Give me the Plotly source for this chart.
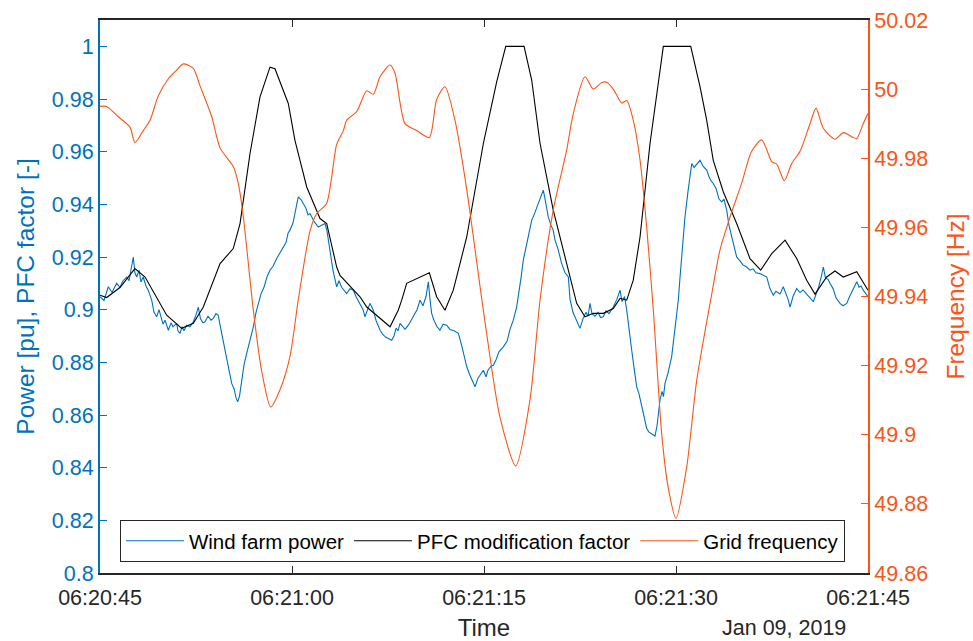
import pandas as pd
import plotly.graph_objects as go

# ---- data (seconds after 06:20:45 on 2019-01-09) ----
freq_t = [0.0, 0.52, 1.43, 2.34, 2.73, 3.38, 3.91, 4.55, 5.34, 5.99, 6.51, 7.29, 7.81,
          8.73, 9.38, 10.41, 10.80, 11.20, 11.98, 12.66, 13.34, 14.06, 14.84, 15.49,
          16.41, 16.93, 17.71, 18.49, 19.01, 19.27, 20.05, 20.84, 21.35, 21.88, 22.66,
          23.05, 23.83, 24.74, 25.73, 26.30, 26.95, 27.73, 28.65, 29.95, 31.25, 32.48,
          33.59, 34.38, 35.41, 36.46, 36.98, 37.89, 38.54, 39.20, 39.59, 40.10, 40.76,
          41.15, 41.66, 42.19, 42.71, 43.23, 43.88, 44.38, 45.00, 45.84, 46.62, 47.71,
          48.44, 49.22, 50.13, 50.91, 51.70, 52.48, 52.87, 53.46, 54.04, 54.69, 55.47,
          55.94, 56.51, 57.42, 58.07, 58.85, 59.12, 59.63, 60.0]
freq_hz = [49.995, 49.995, 49.992, 49.989, 49.9845, 49.988, 49.991, 49.998, 50.003,
           50.0055, 50.0073, 50.006, 50.001, 49.992, 49.983, 49.9776, 49.9728, 49.963,
           49.936, 49.9178, 49.908, 49.913, 49.9226, 49.939, 49.959, 49.964, 49.967,
           49.984, 49.988, 49.991, 49.9935, 49.9995, 49.9985, 50.0036, 50.007, 50.0046,
           49.990, 49.988, 49.986, 49.997, 50.0007, 49.991, 49.971, 49.936, 49.905,
           49.891, 49.910, 49.939, 49.965, 49.9824, 49.993, 50.0036, 50.000, 50.0019,
           50.002, 50.000, 49.996, 49.9967, 49.991, 49.9795, 49.960, 49.936, 49.9004,
           49.885, 49.8758, 49.8908, 49.9158, 49.939, 49.9535, 49.963, 49.9728, 49.982,
           49.9853, 49.979, 49.9783, 49.9735, 49.9785, 49.982, 49.990, 49.9945, 49.9887,
           49.9855, 49.9874, 49.986, 49.9857, 49.990, 49.993]

pfc_t = [0.0, 0.52, 1.56, 2.73, 3.52, 4.16, 4.69, 5.21, 6.38, 7.29, 8.07, 9.38, 10.41,
         10.94, 11.72, 12.5, 13.28, 13.67, 14.71, 15.23, 16.15, 17.19, 17.71, 18.49,
         18.75, 19.79, 20.31, 20.84, 22.66, 23.30, 23.57, 23.96, 25.0, 25.73, 26.30,
         26.95, 27.60, 28.65, 29.95, 30.99, 31.70, 33.13, 33.73, 34.38, 35.41, 36.46,
         37.24, 37.89, 38.54, 39.32, 40.10, 40.63, 41.15, 41.66, 42.19, 42.97, 44.01,
         46.15, 46.88, 47.40, 47.91, 48.70, 49.74, 50.78, 51.62, 52.48, 53.52, 54.43,
         55.21, 55.86, 56.77, 57.42, 58.07, 59.12, 60.0]
pfc_val = [0.9055, 0.9046, 0.9084, 0.9156, 0.9124, 0.9068, 0.9024, 0.8979, 0.8929,
           0.8948, 0.901, 0.9175, 0.9232, 0.9327, 0.9593, 0.9808, 0.9921, 0.9915,
           0.9783, 0.9643, 0.9466, 0.9346, 0.9327, 0.9162, 0.913, 0.9074, 0.9049,
           0.901, 0.8935, 0.8998, 0.9036, 0.910, 0.9124, 0.914, 0.9049, 0.8998,
           0.9074, 0.9276, 0.9631, 0.9865, 1.0, 1.0, 0.9871, 0.9631, 0.9378, 0.9175,
           0.9024, 0.8973, 0.8986, 0.8986, 0.9004, 0.9043, 0.9036, 0.9112, 0.9276,
           0.9631, 1.0, 1.0, 0.9846, 0.9719, 0.9567, 0.9447, 0.9327, 0.9194, 0.915,
           0.9213, 0.9264, 0.9194, 0.9112, 0.9059, 0.9124, 0.9147, 0.9124, 0.9144, 0.9074]

power_t = [0.00, 0.31, 0.65, 0.94, 1.30, 1.56, 1.80, 2.09, 2.27, 2.42, 2.60, 2.73, 2.87,
           3.05, 3.20, 3.38, 3.59, 3.77, 4.04, 4.22, 4.43, 4.61, 4.77, 4.92, 5.08, 5.34,
           5.55, 5.70, 5.99, 6.09, 6.25, 6.41, 6.56, 6.77, 7.03, 7.29, 7.50, 7.68, 7.85,
           8.05, 8.20, 8.44, 8.67, 8.85, 9.06, 9.24, 9.38, 9.61, 9.90, 10.08, 10.29,
           10.47, 10.63, 10.76, 10.90, 11.07, 11.25, 11.46, 11.72, 11.98, 12.19, 12.37,
           12.58, 12.81, 13.05, 13.28, 13.52, 13.80, 14.06, 14.32, 14.53, 14.69, 14.84,
           15.08, 15.31, 15.49, 15.70, 15.88, 16.09, 16.25, 16.41, 16.72, 17.05, 17.27,
           17.58, 17.73, 17.97, 18.20, 18.49, 18.67, 18.88, 19.06, 19.27, 19.53, 19.79,
           20.00, 20.31, 20.55, 20.70, 20.94, 21.09, 21.35, 21.56, 21.88, 22.11, 22.34,
           22.58, 22.79, 22.97, 23.13, 23.28, 23.44, 23.67, 23.83, 24.09, 24.30, 24.53,
           24.77, 25.00, 25.23, 25.47, 25.65, 25.78, 25.91, 26.09, 26.33, 26.56, 26.80,
           27.09, 27.34, 27.66, 28.00, 28.28, 28.65, 28.91, 29.14, 29.30, 29.53, 29.77,
           29.95, 30.16, 30.31, 30.55, 30.73, 30.94, 31.17, 31.51, 31.80, 32.03, 32.29,
           32.55, 32.73, 32.89, 33.07, 33.28, 33.52, 33.73, 33.91, 34.06, 34.24, 34.38,
           34.53, 34.63, 34.77, 34.88, 35.02, 35.23, 35.39, 35.55, 35.78, 36.07, 36.33,
           36.59, 36.72, 36.95, 37.24, 37.50, 37.73, 37.97, 38.13, 38.28, 38.44, 38.67,
           38.91, 39.10, 39.32, 39.53, 39.77, 40.10, 40.39, 40.63, 40.78, 40.98, 41.15,
           41.33, 41.54, 41.72, 41.93, 42.11, 42.32, 42.50, 42.71, 42.89, 43.05, 43.20,
           43.36, 43.52, 43.67, 43.75, 43.91, 44.02, 44.14, 44.38, 44.66, 44.84, 45.00,
           45.18, 45.31, 45.47, 45.70, 45.94, 46.23, 46.41, 46.64, 46.88, 47.11, 47.40,
           47.58, 47.73, 47.91, 48.13, 48.36, 48.57, 48.75, 48.96, 49.14, 49.35, 49.53,
           49.74, 50.00, 50.23, 50.52, 50.78, 51.02, 51.25, 51.56, 51.80, 52.09, 52.34,
           52.60, 52.81, 53.13, 53.38, 53.59, 53.75, 53.91, 54.14, 54.43, 54.69, 54.92,
           55.21, 55.47, 55.73, 55.94, 56.17, 56.37, 56.51, 56.68, 56.88, 57.03, 57.27,
           57.50, 57.81, 58.05, 58.34, 58.52, 58.75, 58.95, 59.12, 59.30, 59.45, 59.63,
           59.84, 60.00]
power_pu = [0.9049, 0.9035, 0.9087, 0.9065, 0.9100, 0.9085, 0.9110, 0.9124, 0.9110,
            0.9150, 0.9200, 0.9140, 0.9124, 0.9150, 0.9105, 0.9124, 0.9090, 0.9074,
            0.9036, 0.8990, 0.8973, 0.9000, 0.8965, 0.8945, 0.8960, 0.8922, 0.8950,
            0.8935, 0.8948, 0.8920, 0.8910, 0.8935, 0.8920, 0.8941, 0.8935, 0.8954,
            0.8980, 0.9010, 0.8965, 0.8950, 0.8954, 0.8975, 0.8960, 0.8967, 0.8985,
            0.8979, 0.8941, 0.8880, 0.8808, 0.8770, 0.8720, 0.8700, 0.8665, 0.8650,
            0.8672, 0.8732, 0.8790, 0.8834, 0.8880, 0.8935, 0.8990, 0.9024, 0.9060,
            0.9085, 0.9125, 0.9150, 0.9165, 0.9194, 0.9215, 0.9238, 0.9255, 0.9290,
            0.9302, 0.9330, 0.9385, 0.9428, 0.9418, 0.9403, 0.9385, 0.9360, 0.9365,
            0.9335, 0.9314, 0.9320, 0.9327, 0.9300, 0.9226, 0.9150, 0.9087, 0.9110,
            0.9085, 0.9075, 0.9061, 0.9080, 0.9074, 0.9050, 0.9024, 0.9000, 0.8973,
            0.9000, 0.9024, 0.8998, 0.8960, 0.8922, 0.8905, 0.8895, 0.8890, 0.8884,
            0.8900, 0.8930, 0.8920, 0.8948, 0.8935, 0.8925, 0.8941, 0.8960, 0.8975,
            0.9000, 0.9036, 0.9015, 0.9050, 0.9106, 0.9040, 0.8986, 0.8960, 0.8935,
            0.8922, 0.8945, 0.8941, 0.8925, 0.8920, 0.8910, 0.8860, 0.8783, 0.8750,
            0.8725, 0.8707, 0.8740, 0.8760, 0.8770, 0.8745, 0.8770, 0.8785, 0.8789,
            0.8810, 0.8840, 0.8859, 0.8880, 0.8925, 0.8960, 0.9010, 0.9060, 0.9120,
            0.9188, 0.9240, 0.9290, 0.9340, 0.9360, 0.9380, 0.9403, 0.9420, 0.9440,
            0.9454, 0.9420, 0.9390, 0.9352, 0.9320, 0.9305, 0.9264, 0.9230, 0.9175,
            0.9140, 0.9124, 0.9040, 0.8990, 0.8960, 0.8929, 0.8965, 0.8990, 0.8975,
            0.9024, 0.8985, 0.8975, 0.8990, 0.8970, 0.8973, 0.8995, 0.8985, 0.9010,
            0.9040, 0.9074, 0.9030, 0.9050, 0.8998, 0.8920, 0.8846, 0.8780, 0.8707,
            0.8680, 0.8631, 0.8595, 0.8549, 0.8535, 0.8530, 0.8525, 0.8520, 0.8560,
            0.8620, 0.8657, 0.8690, 0.8670, 0.8720, 0.8760, 0.8821, 0.8890, 0.8960,
            0.9036, 0.9120, 0.9230, 0.9352, 0.9450, 0.9555, 0.9540, 0.9555, 0.9567,
            0.9545, 0.9530, 0.9505, 0.9490, 0.9479, 0.9460, 0.9420, 0.9409, 0.9420,
            0.9378, 0.9320, 0.9276, 0.9240, 0.9200, 0.9185, 0.9170, 0.9162, 0.9150,
            0.9155, 0.9140, 0.9137, 0.9130, 0.9124, 0.9080, 0.9055, 0.9070, 0.9060,
            0.9087, 0.9060, 0.9040, 0.9010, 0.9050, 0.9080, 0.9065, 0.9075, 0.9061,
            0.9045, 0.9030, 0.9060, 0.9090, 0.9130, 0.9162, 0.9120, 0.9115, 0.9100,
            0.9080, 0.9045, 0.9024, 0.9015, 0.9024, 0.9045, 0.9070, 0.9090, 0.9106,
            0.9085, 0.9090, 0.9074, 0.9060, 0.9049]

start_time = "2019-01-09 06:20:45"
end_time = "2019-01-09 06:21:45"
x_tick_vals = ["2019-01-09 06:20:45", "2019-01-09 06:21:00", "2019-01-09 06:21:15",
               "2019-01-09 06:21:30", "2019-01-09 06:21:45"]
x_tick_text = ["06:20:45", "06:21:00", "06:21:15", "06:21:30", "06:21:45"]
left_ticks = [0.8, 0.82, 0.84, 0.86, 0.88, 0.9, 0.92, 0.94, 0.96, 0.98, 1.0]
left_tick_text = ["0.8", "0.82", "0.84", "0.86", "0.88", "0.9", "0.92", "0.94",
                  "0.96", "0.98", "1"]
right_ticks = [49.86, 49.88, 49.9, 49.92, 49.94, 49.96, 49.98, 50.0, 50.02]
right_tick_text = ["49.86", "49.88", "49.9", "49.92", "49.94", "49.96", "49.98",
                   "50", "50.02"]

BLUE = "#0072BD"
ORANGE = "#FA5518"
DARK = "#262626"
FONT = "Liberation Sans, Arial, sans-serif"

base = pd.Timestamp(start_time)


def to_time(seconds):
    return base + pd.to_timedelta(seconds, unit="s")


fig = go.Figure()
fig.add_trace(go.Scatter(x=to_time(power_t), y=power_pu, mode="lines",
                         name="Wind farm power", line=dict(color=BLUE, width=1.1)))
fig.add_trace(go.Scatter(x=to_time(pfc_t), y=pfc_val, mode="lines",
                         name="PFC modification factor",
                         line=dict(color="#000000", width=1.1)))
fig.add_trace(go.Scatter(x=to_time(freq_t), y=freq_hz, mode="lines",
                         name="Grid frequency", yaxis="y2",
                         line=dict(color=ORANGE, width=1.1, shape="spline",
                                   smoothing=0.7)))

fig.update_layout(
    template="none",
    width=973, height=641,
    margin=dict(l=100, r=105, t=20, b=68, autoexpand=False),
    paper_bgcolor="white", plot_bgcolor="white",
    font=dict(family=FONT, color=DARK),
    showlegend=True,
    legend=dict(orientation="h", x=0.026, y=0.0579, xanchor="left", yanchor="middle",
                bgcolor="white", bordercolor=DARK, borderwidth=1, itemwidth=58,
                font=dict(size=20.5, color="#000000", family=FONT)),
    xaxis=dict(type="date", range=[start_time, end_time], automargin=False,
               tickvals=x_tick_vals, ticktext=x_tick_text,
               showline=True, linecolor=DARK, linewidth=2, mirror="ticks",
               ticks="inside", ticklen=7, tickwidth=1, tickcolor=DARK,
               ticklabelstandoff=4,
               tickfont=dict(size=21.5, color=DARK), showgrid=False, zeroline=False,
               title=dict(text="Time", font=dict(size=24, color=DARK), standoff=12)),
    yaxis=dict(range=[0.8, 1.01], tickvals=left_ticks, ticktext=left_tick_text,
               automargin=False,
               showline=True, linecolor=BLUE, linewidth=2, ticks="inside",
               ticklen=7, tickwidth=1, tickcolor=BLUE,
               tickfont=dict(size=21.5, color=BLUE), showgrid=False, zeroline=False,
               title=dict(text="Power [pu], PFC factor [-]",
                          font=dict(size=24.5, color=BLUE), standoff=10)),
    yaxis2=dict(range=[49.86, 50.02], overlaying="y", side="right",
                automargin=False,
                tickvals=right_ticks, ticktext=right_tick_text,
                showline=True, linecolor=ORANGE, linewidth=2, ticks="inside",
                ticklen=7, tickwidth=1, tickcolor=ORANGE,
                tickfont=dict(size=21.5, color=ORANGE), showgrid=False, zeroline=False,
                title=dict(text="Frequency [Hz]", font=dict(size=24.5, color=ORANGE),
                           standoff=20)),
    annotations=[dict(text="Jan 09, 2019", xref="paper", yref="paper", x=0.974, y=-0.1,
                      xanchor="right", yanchor="middle", showarrow=False,
                      font=dict(size=21.5, color=DARK, family=FONT))],
)

fig.write_html("out.html")
